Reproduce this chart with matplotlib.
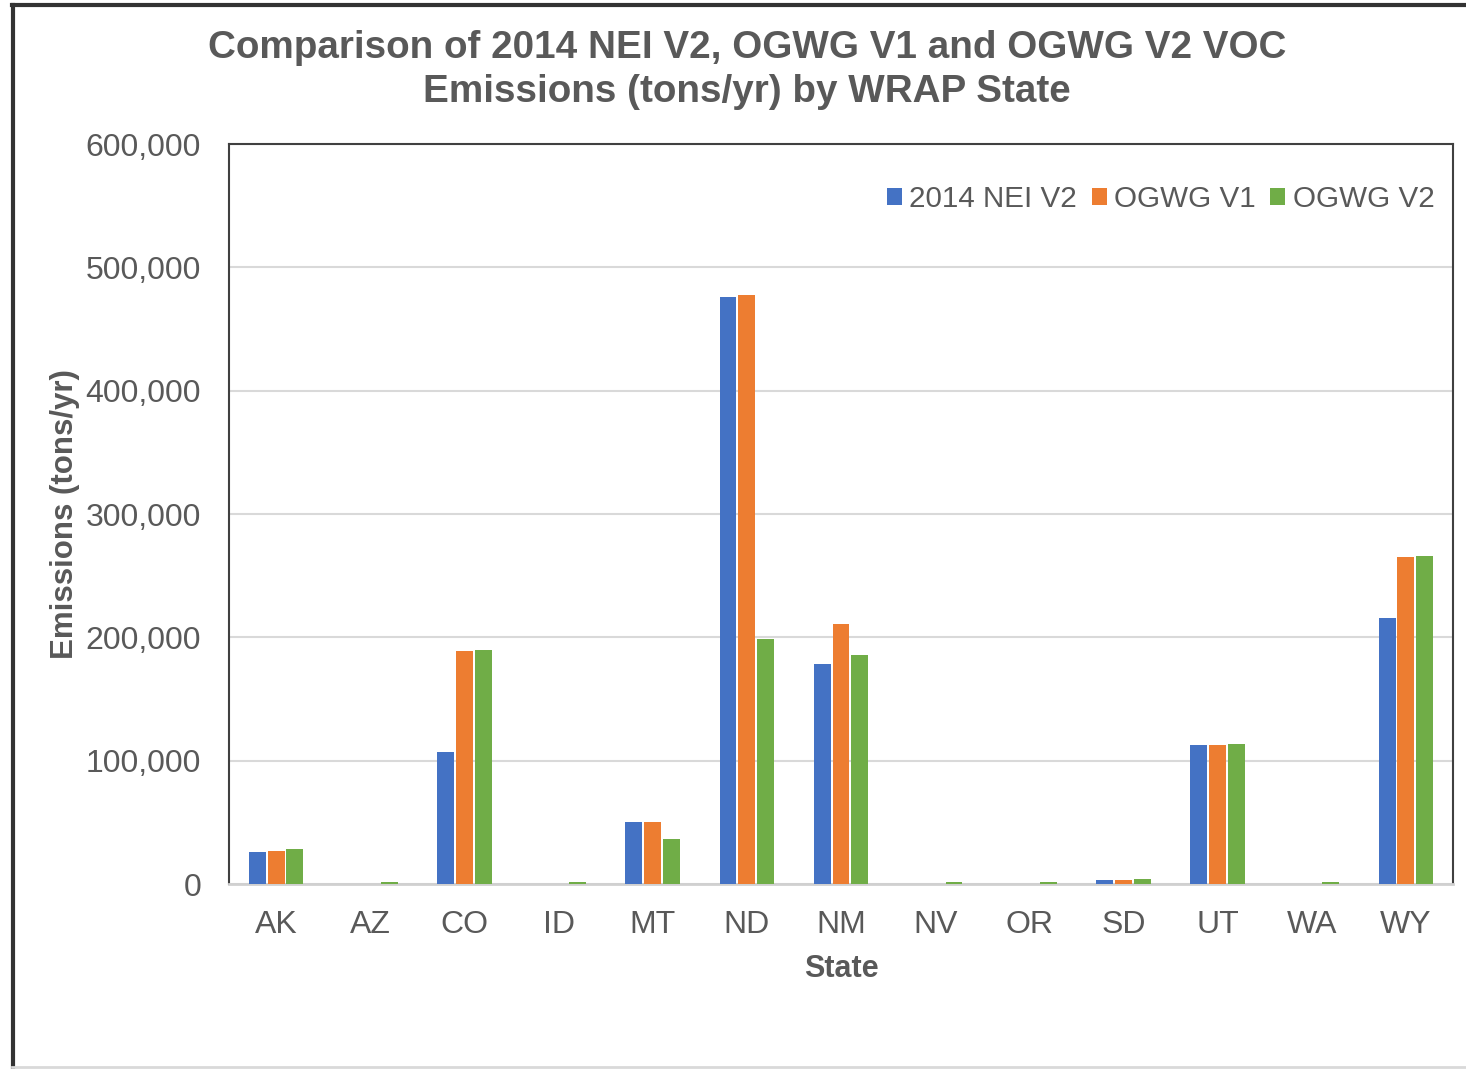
import matplotlib
matplotlib.use("Agg")
import matplotlib.pyplot as plt
import numpy as np
from matplotlib.patches import Patch
from matplotlib.lines import Line2D
from matplotlib.ticker import FuncFormatter

plt.rcParams['font.family'] = ['Liberation Sans', 'DejaVu Sans']

states = ["AK", "AZ", "CO", "ID", "MT", "ND", "NM", "NV", "OR", "SD", "UT", "WA", "WY"]
nei_v2 = [26000, 0, 107000, 0, 50000, 476000, 178000, 0, 0, 3000, 112700, 0, 215700]
ogwg_v1 = [27000, 0, 189000, 0, 50000, 477500, 210500, 0, 0, 3200, 112700, 0, 265000]
ogwg_v2 = [28000, 1500, 190000, 1500, 36500, 198500, 185500, 1500, 1500, 4300, 113500, 1500, 266000]
series_names = ["2014 NEI V2", "OGWG V1", "OGWG V2"]
colors = ["#4472C4", "#ED7D31", "#70AD47"]
yticks = [0, 100000, 200000, 300000, 400000, 500000, 600000]

txt = "#595959"
fig = plt.figure(figsize=(14.66, 10.69), dpi=100)
ax = fig.add_axes([229/1466, 185/1069, 1224/1466, 740/1069])

x = np.arange(len(states))
w = 0.18
for i, (vals, c) in enumerate(zip([nei_v2, ogwg_v1, ogwg_v2], colors)):
    ax.bar(x + (i - 1) * 0.2, vals, width=w, color=c, zorder=3)

ax.set_xlim(-0.5, len(states) - 0.5)
ax.set_ylim(0, 600000)
ax.set_yticks(yticks)
ax.yaxis.set_major_formatter(FuncFormatter(lambda v, p: f"{int(v):,}"))
ax.set_xticks(x)
ax.set_xticklabels(states)
ax.tick_params(axis='both', length=0, labelsize=23, labelcolor=txt)
ax.tick_params(axis='y', pad=20)
ax.tick_params(axis='x', pad=18.5)
ax.grid(axis='y', color="#D9D9D9", linewidth=1.5, zorder=0)
for s in ['left', 'top', 'right']:
    ax.spines[s].set_color("#404040")
    ax.spines[s].set_linewidth(1.5)
ax.spines['bottom'].set_color("#D0D0D0")
ax.spines['bottom'].set_linewidth(2)

ax.set_ylabel("Emissions (tons/yr)", fontsize=22.5, fontweight='bold', color=txt)
ax.yaxis.set_label_coords(-0.1217, 0.5)
ax.set_xlabel("State", fontsize=22, fontweight='bold', color=txt)
ax.xaxis.set_label_coords(0.5, -0.0946)

handles = [Patch(facecolor=c, edgecolor='none') for c in colors]
leg = ax.legend(handles, series_names, loc='upper right', bbox_to_anchor=(0.9945, 0.961),
                ncol=3, frameon=False, fontsize=21.3, handlelength=0.5, handleheight=0.5,
                handletextpad=0.25, columnspacing=0.5, borderaxespad=0)
for t in leg.get_texts():
    t.set_color(txt)

fig.text(747/1466, 1 - 70/1069,
         "Comparison of 2014 NEI V2, OGWG V1 and OGWG V2 VOC\nEmissions (tons/yr) by WRAP State",
         ha='center', va='center', fontsize=27.8, fontweight='bold', color=txt, linespacing=1.3)

# outer frame
fig.add_artist(Line2D([13/1466, 13/1466], [0, 1 - 5/1069], color="#333333", linewidth=3,
                      transform=fig.transFigure))
fig.add_artist(Line2D([12/1466, 1], [1 - 5/1069, 1 - 5/1069], color="#333333", linewidth=3,
                      transform=fig.transFigure))
fig.add_artist(Line2D([12/1466, 1], [2/1069, 2/1069], color="#D9D9D9", linewidth=2,
                      transform=fig.transFigure))

fig.savefig("out.png", dpi=100, facecolor='white')
